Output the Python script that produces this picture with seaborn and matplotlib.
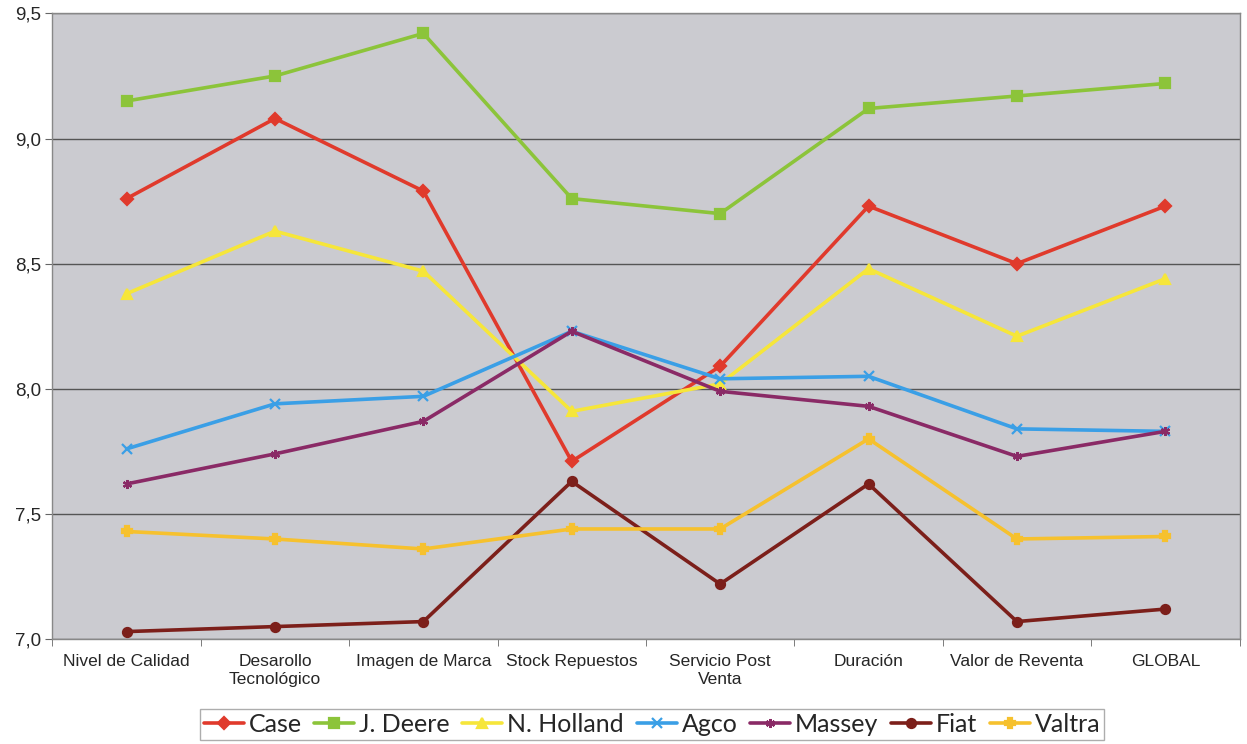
import pandas as pd
import numpy as np
import matplotlib
matplotlib.use("Agg")
import matplotlib.pyplot as plt
import seaborn as sns
from matplotlib.ticker import FuncFormatter, FixedLocator

# categorias del eje x
categorias = ["Nivel de Calidad", "Desarollo\nTecnológico", "Imagen de Marca",
              "Stock Repuestos", "Servicio Post\nVenta", "Duración",
              "Valor de Reventa", "GLOBAL"]

# valores por marca
case = [8.76, 9.08, 8.79, 7.71, 8.09, 8.73, 8.50, 8.73]
deere = [9.15, 9.25, 9.42, 8.76, 8.70, 9.12, 9.17, 9.22]
holland = [8.38, 8.63, 8.47, 7.91, 8.02, 8.48, 8.21, 8.44]
agco = [7.76, 7.94, 7.97, 8.23, 8.04, 8.05, 7.84, 7.83]
massey = [7.62, 7.74, 7.87, 8.23, 7.99, 7.93, 7.73, 7.83]
fiat = [7.03, 7.05, 7.07, 7.63, 7.22, 7.62, 7.07, 7.12]
valtra = [7.43, 7.40, 7.36, 7.44, 7.44, 7.80, 7.40, 7.41]

marcas = ["Case", "J. Deere", "N. Holland", "Agco", "Massey", "Fiat", "Valtra"]
series = [case, deere, holland, agco, massey, fiat, valtra]

colores = ["#e03a2c", "#8cc43a", "#f6e63a", "#3a9fe6", "#8a2a66", "#7c1f1a", "#f6c12e"]
marcadores = ["D", "s", "^", "x", (6, 2, 0), "o", "P"]

x = np.arange(len(categorias))

sns.set_style("white")
plt.rcParams['font.family'] = ['Liberation Sans', 'DejaVu Sans']

fig = plt.figure(figsize=(12.47, 7.44), dpi=100)
ax = fig.add_axes([0.042, 0.141, 0.952, 0.841])
ax.set_facecolor("#cbcbd0")

for nombre, vals, c, m in zip(marcas, series, colores, marcadores):
    sns.lineplot(x=x, y=vals, color=c, marker=m, markersize=6.5,
                 markeredgewidth=1.6, markeredgecolor=c, linewidth=2.6,
                 label=nombre, ax=ax)

ax.set_xlim(-0.5, len(categorias) - 0.5)
ax.set_ylim(7.0, 9.5)
ax.set_yticks([7.0, 7.5, 8.0, 8.5, 9.0, 9.5])
ax.yaxis.set_major_formatter(FuncFormatter(lambda v, p: f"{v:.1f}".replace(".", ",")))
ax.yaxis.grid(True, color="#555555", linewidth=1.0)
ax.set_axisbelow(True)

ax.set_xticks(x)
ax.set_xticklabels(categorias, fontsize=12.5)
ax.tick_params(axis="x", length=0, pad=11)
ax.xaxis.set_minor_locator(FixedLocator(np.arange(-0.5, len(categorias), 1.0)))
ax.tick_params(axis="x", which="minor", length=5, color="#666666", direction="out", bottom=True)
ax.tick_params(axis="y", labelsize=13.5, length=5, color="#666666", direction="out", left=True, pad=3)

ax.set_xlabel("")
ax.set_ylabel("")
for s in ax.spines.values():
    s.set_color("#888888")
    s.set_linewidth(1.0)

handles, labels = ax.get_legend_handles_labels()
ax.legend(handles, labels, loc="upper center", bbox_to_anchor=(0.505, -0.112),
          ncol=7, frameon=True, fancybox=False, edgecolor="#999999",
          prop={"family": ["Lato", "DejaVu Sans"], "size": 18},
          handlelength=1.6, handletextpad=0.2, columnspacing=0.5,
          borderpad=0.15, borderaxespad=0.0)

fig.savefig("out.png", dpi=100)
